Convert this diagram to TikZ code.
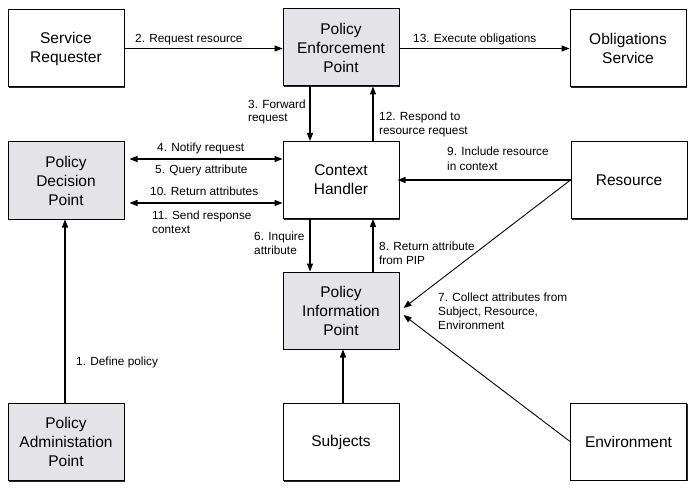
\documentclass[tikz,border=0pt]{standalone}
\usepackage{fontspec}
\setmainfont{Liberation Sans}
\usetikzlibrary{arrows.meta,shadows}
\definecolor{boxgray}{RGB}{228,228,232}
\begin{document}
\begin{tikzpicture}[x=1pt,y=-1pt,
 box/.style={draw, line width=1pt, fill=white, minimum width=116pt, minimum height=77pt, inner sep=0pt, align=center,
   font=\fontsize{15.5}{19}\selectfont,
   drop shadow={shadow xshift=1.3pt, shadow yshift=-1.3pt, opacity=0.85, fill=black}},
 gbox/.style={box, fill=boxgray},
 arr/.style={line width=1.1pt, -{Triangle[length=8pt,width=6pt]}},
 darr/.style={line width=1.1pt, {Triangle[length=8pt,width=6pt]}-{Triangle[length=8pt,width=6pt]}},
 lbl/.style={anchor=base west, inner sep=0pt, font=\fontsize{11.8}{14}\selectfont}]
\useasboundingbox (0,0) rectangle (700,497);
\fill[white] (0,0) rectangle (700,497);

% boxes
\node[box]  (SR)   at (66,48.5)   {Service\\Requester};
\node[gbox] (PEP)  at (341,47.5)  {Policy\\Enforcement\\Point};
\node[box]  (OS)   at (628,48.5)  {Obligations\\Service};
\node[gbox] (PDP)  at (66,180.5)  {Policy\\Decision\\Point};
\node[box]  (CH)   at (341,180)   {Context\\Handler};
\node[box]  (Res)  at (629,180)   {Resource};
\node[gbox] (PIP)  at (341,310.5) {Policy\\Information\\Point};
\node[gbox] (PAP)  at (66,442)    {Policy\\Administation\\Point};
\node[box]  (Subj) at (341,442)   {Subjects};
\node[box]  (Env)  at (628.5,441.5) {Environment};

% connectors
\draw[arr] (SR.east) -- (SR.east -| PEP.west);
\draw[arr] (PEP.east |- SR.east) -- (OS.west);
\draw[arr] ([xshift=-31pt]PEP.south) -- ([xshift=-31pt]CH.north);
\draw[arr] ([xshift=32pt]CH.north) -- ([xshift=32pt]PEP.south);
\draw[darr, shorten <=5pt] ([yshift=21.5pt]PDP.east) -- ([yshift=21.5pt]PDP.east -| CH.west);
\draw[darr, shorten <=5pt] ([yshift=-22.5pt]PDP.east) -- ([yshift=-22.5pt]PDP.east -| CH.west);
\draw[arr, shorten >=-2pt] (Res.west) -- (CH.east);
\draw[arr] ([xshift=-31pt]CH.south) -- ([xshift=-31pt]PIP.north);
\draw[arr] ([xshift=32pt]PIP.north) -- ([xshift=32pt]CH.south);
\draw[arr, line width=0.9pt] (Res.west) -- ([xshift=4pt,yshift=2.5pt]PIP.east);
\draw[arr, line width=0.9pt] (Env.west) -- ([xshift=4pt,yshift=-4.5pt]PIP.east);
\draw[arr] ([xshift=2pt]Subj.north) -- ([xshift=2pt]PIP.south);
\draw[arr] ([xshift=-1pt]PAP.north) -- ([xshift=-1pt]PDP.south);

% labels
\node[lbl] (l2)  at (135,43)  {2. Request resource};
\node[lbl] (l13) at (413,43)  {13. Execute obligations};
\node[lbl] (l3a) at (248,109) {3. Forward};
\node[lbl] (l3b) at (248,122) {request};
\node[lbl] (l12a) at (379,121) {12. Respond to};
\node[lbl] (l12b) at (379,135) {resource request};
\node[lbl] (l4)  at (157,151) {4. Notify request};
\node[lbl] (l5)  at (155,173) {5. Query attribute};
\node[lbl] (l10) at (150,195) {10. Return attributes};
\node[lbl] (l11a) at (152,219) {11. Send response};
\node[lbl] (l11b) at (152,233) {context};
\node[lbl] (l9a) at (447,156) {9. Include resource};
\node[lbl] (l9b) at (447,170) {in context};
\node[lbl] (l6a) at (254,240) {6. Inquire};
\node[lbl] (l6b) at (254,254) {attribute};
\node[lbl] (l8a) at (379,250) {8. Return attribute};
\node[lbl] (l8b) at (379,264) {from PIP};
\node[lbl] (l7a) at (438,301) {7. Collect attributes from};
\node[lbl] (l7b) at (438,315) {Subject, Resource,};
\node[lbl] (l7c) at (438,329) {Environment};
\node[lbl] (l1)  at (76,365)  {1. Define policy};
\end{tikzpicture}
\end{document}
